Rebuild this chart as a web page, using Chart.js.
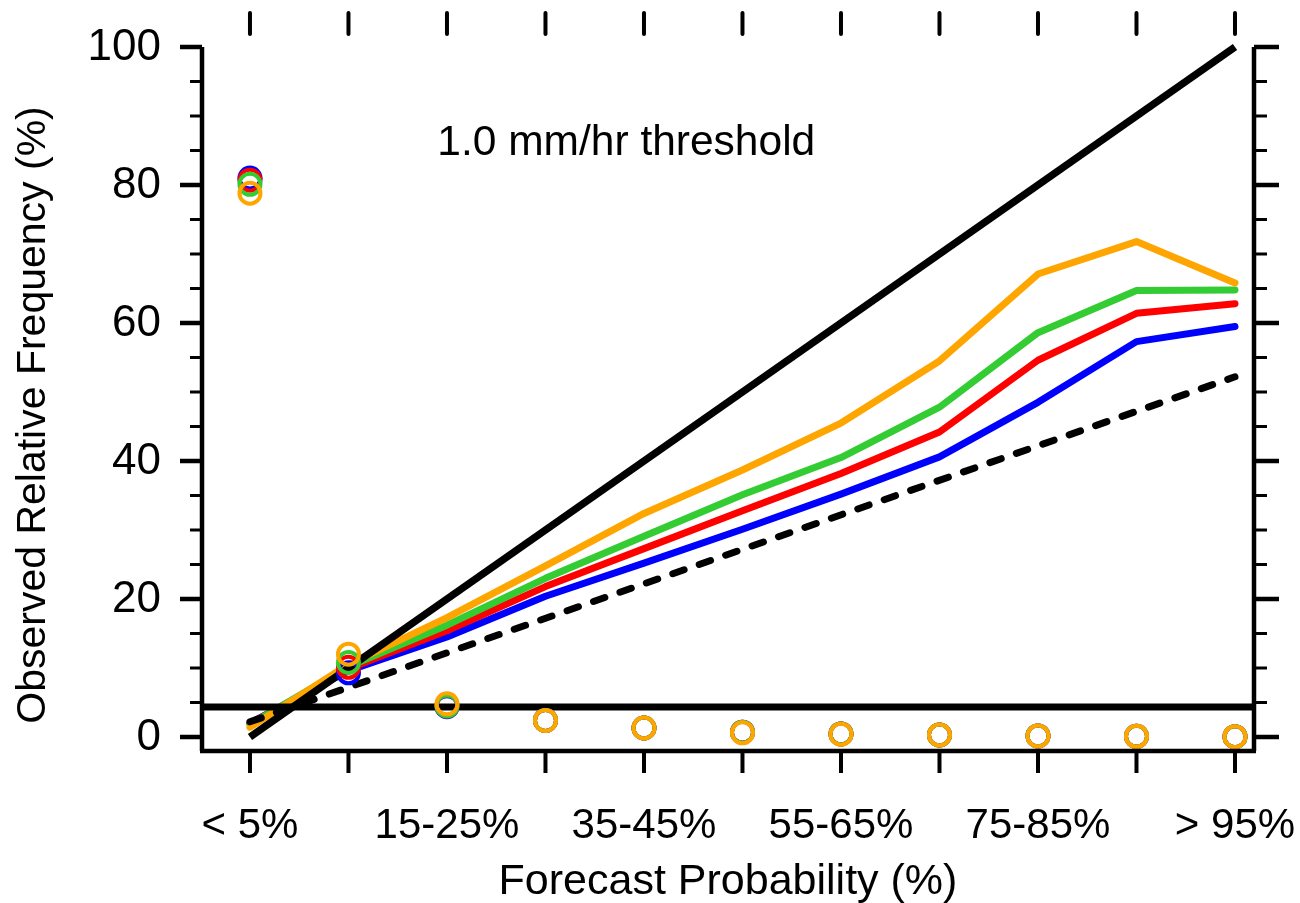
<!DOCTYPE html>
<html>
<head>
<meta charset="utf-8">
<script src="https://cdn.jsdelivr.net/npm/chart.js@4"></script>
<style>
  html, body { margin: 0; padding: 0; background: #fff; }
  #wrap { width: 1300px; height: 903px; position: relative; }
</style>
</head>
<body>
<div id="wrap"><canvas id="c"></canvas></div>
<script>
// ---- data ----
const xValues = [0, 10, 20, 30, 40, 50, 60, 70, 80, 90, 100];
const xTickLabels = ['< 5%', '', '15-25%', '', '35-45%', '', '55-65%', '', '75-85%', '', '> 95%'];
const yTickValues = [0, 20, 40, 60, 80, 100];

const blueLine   = [2.0, 9.6, 14.5, 20.4, 25.2, 30.1, 35.2, 40.6, 48.5, 57.3, 59.5];
const redLine    = [1.9, 9.9, 15.4, 21.8, 27.3, 32.8, 38.2, 44.2, 54.6, 61.4, 62.8];
const greenLine  = [1.8, 10.2, 16.2, 23.0, 29.1, 35.1, 40.5, 47.8, 58.6, 64.7, 64.8];
const orangeLine = [1.4, 10.5, 17.3, 24.8, 32.4, 38.7, 45.5, 54.5, 67.1, 71.8, 65.8];

const blueFreq   = [81.0, 9.3, 4.4, 2.4, 1.3, 0.7, 0.45, 0.3, 0.15, 0.1, 0.05];
const redFreq    = [80.7, 10.1, 4.5, 2.4, 1.3, 0.7, 0.45, 0.3, 0.15, 0.1, 0.05];
const greenFreq  = [80.1, 10.8, 4.5, 2.4, 1.3, 0.7, 0.45, 0.3, 0.15, 0.1, 0.05];
const orangeFreq = [78.8, 12.0, 4.8, 2.4, 1.3, 0.6, 0.4, 0.3, 0.14, 0.1, 0.05];

const perfectX = [0, 100];
const perfectY = [0, 100];
const noSkillX = [0, 100];
const noSkillY = [2.2, 52.2];
const climatology = 4.35;

const annotationText = '1.0 mm/hr threshold';
const xTitle = 'Forecast Probability (%)';
const yTitle = 'Observed Relative Frequency (%)';

// ---- helpers ----
const pts = (xs, ys) => xs.map((x, i) => ({ x: x, y: ys[i] }));
const FONT = "'Liberation Sans', Arial, Helvetica, sans-serif";
const X_MIN = -4.87, X_MAX = 101.93, Y_MIN = -2.03, Y_MAX = 100;

// Chart.js draws lower "order" on top
function lineDs(data, color, order, extra) {
  return Object.assign({
    data: data, borderColor: color, backgroundColor: color, borderWidth: 7,
    pointRadius: 0, pointHoverRadius: 0, showLine: true, fill: false, tension: 0,
    borderCapStyle: 'round', borderJoinStyle: 'round', order: order
  }, extra || {});
}
function circDs(data, color, order) {
  return {
    data: data, borderColor: color, backgroundColor: 'rgba(0,0,0,0)',
    pointRadius: 10.5, pointBorderWidth: 4, pointHoverRadius: 10.5,
    showLine: false, clip: false, order: order
  };
}

const frame = {
  id: 'frame',
  afterDatasetsDraw(chart) {
    const ctx = chart.ctx;
    const xs = chart.scales.x, ys = chart.scales.y;
    const a = chart.chartArea;
    ctx.save();
    ctx.strokeStyle = '#000';
    ctx.fillStyle = '#000';
    // box
    ctx.lineWidth = 4.5;
    ctx.lineCap = 'butt';
    ctx.beginPath();
    ctx.moveTo(a.left, a.top); ctx.lineTo(a.left, a.bottom);
    ctx.moveTo(a.right, a.top); ctx.lineTo(a.right, a.bottom);
    ctx.moveTo(a.left - 2, a.bottom); ctx.lineTo(a.right + 2, a.bottom);
    ctx.stroke();
    // y ticks left/right
    for (let v = 0; v <= 100; v += 5) {
      const y = ys.getPixelForValue(v);
      const major = v % 20 === 0;
      ctx.lineWidth = major ? 4.5 : 3;
      ctx.beginPath();
      ctx.moveTo(a.left - (major ? 22 : 12), y); ctx.lineTo(a.left, y);
      ctx.moveTo(a.right, y); ctx.lineTo(a.right + (major ? 25 : 13), y);
      ctx.stroke();
    }
    // x ticks bottom and top
    ctx.lineWidth = 4;
    xValues.forEach(v => {
      const x = xs.getPixelForValue(v);
      ctx.lineCap = 'butt';
      ctx.beginPath();
      ctx.moveTo(x, a.bottom); ctx.lineTo(x, a.bottom + 22);
      ctx.stroke();
      ctx.lineCap = 'round';
      ctx.beginPath();
      ctx.moveTo(x, a.top - 34); ctx.lineTo(x, a.top - 13);
      ctx.stroke();
    });
    // labels
    ctx.textBaseline = 'middle';
    ctx.textAlign = 'right';
    ctx.font = '44px ' + FONT;
    yTickValues.forEach(v => {
      ctx.fillText(String(v), a.left - 41, ys.getPixelForValue(v) + 1);
    });
    ctx.textAlign = 'center';
    ctx.font = '42px ' + FONT;
    xValues.forEach((v, i) => {
      if (xTickLabels[i]) ctx.fillText(xTickLabels[i], xs.getPixelForValue(v), a.bottom + 75);
    });
    ctx.font = '43px ' + FONT;
    ctx.fillText(xTitle, (a.left + a.right) / 2, a.bottom + 131);
    ctx.font = '41px ' + FONT;
    ctx.save();
    ctx.translate(34, 415);
    ctx.rotate(-Math.PI / 2);
    ctx.fillText(yTitle, 0, 0);
    ctx.restore();
    ctx.font = '42.5px ' + FONT;
    ctx.fillText(annotationText, xs.getPixelForValue(38.2), ys.getPixelForValue(86.1));
    ctx.restore();
  }
};

new Chart(document.getElementById('c'), {
  type: 'scatter',
  data: {
    datasets: [
      lineDs(pts(xValues, blueLine), '#0000ff', 10),
      lineDs(pts(xValues, redLine), '#ff0000', 9),
      lineDs(pts(xValues, greenLine), '#33cc33', 8),
      lineDs(pts(xValues, orangeLine), '#ffa500', 7),
      lineDs(pts(perfectX, perfectY), '#000000', 6, { borderCapStyle: 'butt', clip: false, borderWidth: 7.5 }),
      lineDs(pts(noSkillX, noSkillY), '#000000', 5, { borderDash: [12, 16], borderCapStyle: 'round', borderWidth: 7 }),
      lineDs([{ x: X_MIN, y: climatology }, { x: X_MAX, y: climatology }], '#000000', 4, { borderCapStyle: 'butt', borderWidth: 7 }),
      circDs(pts(xValues, blueFreq), '#0000ff', 3),
      circDs(pts(xValues, redFreq), '#ff0000', 2),
      circDs(pts(xValues, greenFreq), '#33cc33', 1),
      circDs(pts(xValues, orangeFreq), '#ffa500', 0)
    ]
  },
  options: {
    responsive: true,
    maintainAspectRatio: false,
    animation: false,
    layout: { padding: { left: 202, right: 46, top: 47, bottom: 152 } },
    plugins: { legend: { display: false }, tooltip: { enabled: false } },
    scales: {
      x: { type: 'linear', min: X_MIN, max: X_MAX, display: false },
      y: { type: 'linear', min: Y_MIN, max: Y_MAX, display: false }
    }
  },
  plugins: [frame]
});
</script>
</body>
</html>
